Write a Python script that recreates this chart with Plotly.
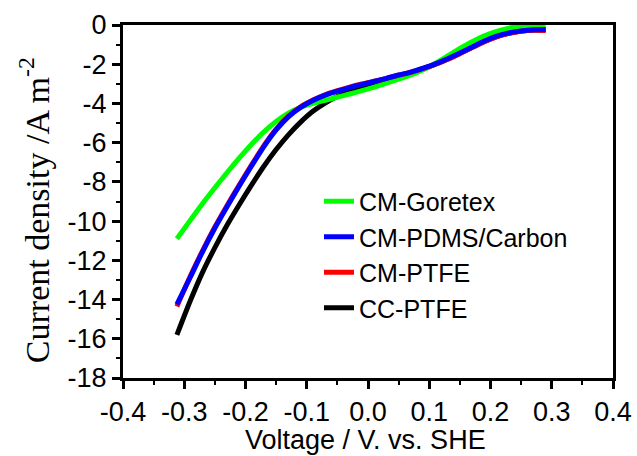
import plotly.graph_objects as go

voltage = [-0.312, -0.29, -0.27, -0.25, -0.23, -0.21, -0.19, -0.17, -0.15, -0.13,
           -0.11, -0.09, -0.07, -0.05, -0.03, -0.01, 0.01, 0.03, 0.05, 0.07,
           0.09, 0.11, 0.13, 0.15, 0.17, 0.19, 0.21, 0.23, 0.25, 0.27, 0.29]

cm_goretex = [-10.9, -9.95, -9.1, -8.3, -7.52, -6.78, -6.08, -5.45, -4.92, -4.5,
              -4.2, -4.0, -3.84, -3.68, -3.52, -3.35, -3.17, -2.97, -2.76, -2.55,
              -2.28, -1.95, -1.58, -1.2, -0.85, -0.55, -0.32, -0.16, -0.07, -0.03, -0.02]

cm_pdms_carbon = [-14.25, -12.85, -11.55, -10.35, -9.25, -8.2, -7.18, -6.2, -5.35, -4.68,
                  -4.2, -3.85, -3.58, -3.37, -3.19, -3.03, -2.88, -2.72, -2.55, -2.4,
                  -2.2, -1.98, -1.72, -1.43, -1.12, -0.82, -0.57, -0.4, -0.3, -0.24, -0.23]

cm_ptfe = [-14.35, -12.8, -11.5, -10.3, -9.2, -8.15, -7.13, -6.15, -5.31, -4.65,
           -4.17, -3.83, -3.56, -3.35, -3.17, -3.01, -2.87, -2.72, -2.56, -2.41,
           -2.22, -2.0, -1.75, -1.46, -1.15, -0.85, -0.6, -0.43, -0.32, -0.27, -0.28]

cc_ptfe = [-15.8, -14.05, -12.6, -11.35, -10.2, -9.15, -8.15, -7.2, -6.35, -5.6,
           -4.95, -4.4, -3.98, -3.65, -3.4, -3.2, -3.0, -2.82, -2.62, -2.45,
           -2.25, -2.0, -1.74, -1.45, -1.14, -0.84, -0.59, -0.42, -0.31, -0.26, -0.25]

x_tickvals = [-0.4, -0.3, -0.2, -0.1, 0.0, 0.1, 0.2, 0.3, 0.4]
x_ticktext = ["-0.4", "-0.3", "-0.2", "-0.1", "0.0", "0.1", "0.2", "0.3", "0.4"]
y_tickvals = [0, -2, -4, -6, -8, -10, -12, -14, -16, -18]
y_ticktext = ["0", "-2", "-4", "-6", "-8", "-10", "-12", "-14", "-16", "-18"]

fig = go.Figure()
series = [
    ("CC-PTFE", cc_ptfe, "#000000", 4),
    ("CM-Goretex", cm_goretex, "#00FF00", 1),
    ("CM-PTFE", cm_ptfe, "#FF0000", 3),
    ("CM-PDMS/Carbon", cm_pdms_carbon, "#0000FF", 2),
]
for name, ys, color, rank in series:
    fig.add_trace(go.Scatter(
        x=voltage, y=ys, mode="lines", name=name, legendrank=rank,
        line=dict(color=color, width=5, shape="spline", smoothing=0.7),
    ))

sans = "Liberation Sans, Arial"
tickfont = dict(family=sans, size=27, color="black")
fig.update_layout(
    width=637, height=456,
    margin=dict(l=123, r=24, t=25, b=78, autoexpand=False),
    paper_bgcolor="white", plot_bgcolor="white",
    showlegend=True,
    legend=dict(x=0.40, y=0.565, xanchor="left", yanchor="top",
                font=dict(family=sans, size=25, color="black"),
                bgcolor="rgba(0,0,0,0)", tracegroupgap=0, itemwidth=30),
    xaxis=dict(range=[-0.4, 0.4], tickmode="array", tickvals=x_tickvals, ticktext=x_ticktext,
               ticks="outside", ticklen=8, tickwidth=2.5, tickcolor="black",
               showline=True, linecolor="black", linewidth=3, mirror=True,
               showgrid=False, zeroline=False, tickfont=tickfont, automargin=False,
               minor=dict(tickmode="linear", tick0=-0.4, dtick=0.05, ticks="outside",
                          ticklen=4, tickwidth=2, tickcolor="black", showgrid=False)),
    yaxis=dict(range=[-18, 0], tickmode="array", tickvals=y_tickvals, ticktext=y_ticktext,
               ticks="outside", ticklen=8, tickwidth=2.5, tickcolor="black",
               showline=True, linecolor="black", linewidth=3, mirror=True,
               showgrid=False, zeroline=False, tickfont=tickfont, automargin=False,
               minor=dict(tickmode="linear", tick0=0, dtick=1, ticks="outside",
                          ticklen=4, tickwidth=2, tickcolor="black", showgrid=False)),
    annotations=[
        dict(text="Current density /A m<sup>-2</sup>", textangle=-90,
             xref="paper", yref="paper", x=-0.18, y=0.475,
             xanchor="center", yanchor="middle", showarrow=False,
             font=dict(family="Liberation Serif, Times New Roman", size=34, color="black")),
        dict(text="Voltage / V. vs. SHE",
             xref="paper", yref="paper", x=0.494, y=-0.176,
             xanchor="center", yanchor="middle", showarrow=False,
             font=dict(family=sans, size=27, color="black")),
    ],
)

fig.write_html("out.html")
